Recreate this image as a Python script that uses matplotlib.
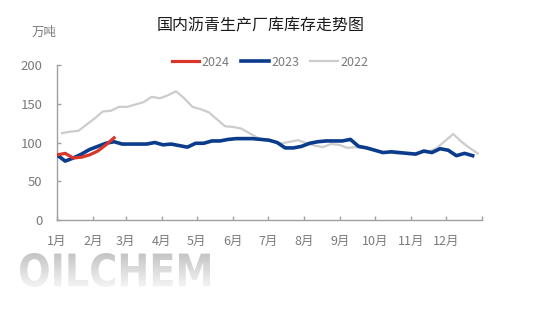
import matplotlib
matplotlib.use("Agg")
import matplotlib.pyplot as plt
import numpy as np
from matplotlib.textpath import TextPath
from matplotlib.font_manager import FontProperties
from matplotlib.patches import PathPatch
from matplotlib.transforms import Affine2D
from matplotlib.colors import LinearSegmentedColormap

plt.rcParams['font.family'] = ['Noto Sans CJK SC', 'DejaVu Sans']

title = "国内沥青生产厂库库存走势图"
unit = "万吨"
watermark = "OILCHEM"
month_labels = ["1月", "2月", "3月", "4月", "5月", "6月", "7月", "8月", "9月", "10月", "11月", "12月"]
month_starts = [0, 31, 59, 90, 120, 151, 181, 212, 243, 273, 304, 334, 365]

s2024 = [84, 86, 80, 81, 84, 89, 97, 106]
s2023 = [84, 76, 80, 85, 91, 95, 99, 101, 98, 98, 98, 98, 100, 97, 98, 96, 94, 99, 99, 102,
         102, 104, 105, 105, 105, 104, 103, 100, 93, 93, 95, 99, 101, 102, 102, 102, 104, 95,
         93, 90, 87, 88, 87, 86, 85, 89, 87, 92, 90, 83, 86, 83]
s2022 = [112, 114, 115, 123, 131, 140, 141, 146, 146, 149, 152, 159, 157, 161, 166, 157, 146,
         143, 139, 130, 121, 120, 118, 112, 106, 103, 101, 99, 101, 103, 99, 96, 94, 98, 97, 93,
         94, 93, 91, 88, 87, 86, 86, 86, 87, 88, 93, 102, 111, 101, 93, 86]
start_day = {"2024": 0, "2023": 0, "2022": 4.3}

W, H = 554, 312
fig = plt.figure(figsize=(W / 100, H / 100), dpi=100)

# watermark layer (pixel coordinates)
bg = fig.add_axes([0, 0, 1, 1], zorder=0)
bg.set_xlim(0, W)
bg.set_ylim(0, H)
bg.axis('off')
tp = TextPath((0, 0), watermark, size=1, prop=FontProperties(family='DejaVu Sans', weight='bold'))
ext = tp.get_extents()
bx0, bx1, by0, by1 = 20, 210, H - 287, H - 253
tr = Affine2D().translate(-ext.x0, -ext.y0).scale((bx1 - bx0) / ext.width, (by1 - by0) / ext.height).translate(bx0, by0)
path = tr.transform_path(tp)
patch = PathPatch(path, facecolor='none', edgecolor='none')
bg.add_patch(patch)
cmap = LinearSegmentedColormap.from_list("wm", ["#c4c4c4", "#f4f4f4"])
grad = np.linspace(0, 1, 64).reshape(-1, 1)
im = bg.imshow(grad, cmap=cmap, extent=[bx0, bx1, by0, by1], origin='upper', aspect='auto')
im.set_clip_path(patch)
bg.set_xlim(0, W)
bg.set_ylim(0, H)

ax = fig.add_axes([57 / W, 1 - 220 / H, 425 / W, 155 / H], zorder=2)
ax.patch.set_alpha(0)

axis_col = "#a0a0a0"
text_col = "#7a7a7a"

series = [("2024", s2024, "#d9362b", 2.3),
          ("2023", s2023, "#0b3c8c", 2.6),
          ("2022", s2022, "#cccccc", 1.6)]
zord = {"2024": 4, "2023": 3, "2022": 2}
for name, vals, col, lw in reversed(series):
    x = start_day[name] + 7 * np.arange(len(vals))
    ax.plot(x, vals, color=col, lw=lw, label=name, solid_joinstyle='round', zorder=zord[name])

ax.set_xlim(0, 365)
ax.set_ylim(0, 200)
ax.set_yticks([0, 50, 100, 150, 200])
ax.set_xticks(month_starts)
ax.set_xticklabels(month_labels + [""])

for sp in ["top", "right"]:
    ax.spines[sp].set_visible(False)
for sp in ["left", "bottom"]:
    ax.spines[sp].set_color(axis_col)
    ax.spines[sp].set_linewidth(1.0)

ax.tick_params(axis='both', direction='in', length=3, width=1, color=axis_col,
               labelcolor=text_col)
ax.tick_params(axis='y', pad=10.5, labelsize=9.5)
ax.tick_params(axis='x', pad=11, labelsize=9)

handles, labels = ax.get_legend_handles_labels()
order = [labels.index(n) for n in ["2024", "2023", "2022"]]
leg = fig.legend([handles[i] for i in order], [labels[i] for i in order],
                 loc='center', bbox_to_anchor=(270 / W, 1 - 62 / H), ncol=3,
                 frameon=False, fontsize=9, handlelength=2.2, handletextpad=0.2,
                 columnspacing=0.9)
for t in leg.get_texts():
    t.set_color(text_col)

fig.text(261 / W, 1 - 26 / H, title, ha='center', va='center', fontsize=11.5, color="#1a1a1a")
fig.text(44 / W, 1 - 32 / H, unit, ha='center', va='center', fontsize=9, color=text_col)

fig.savefig("out.png", dpi=100)
